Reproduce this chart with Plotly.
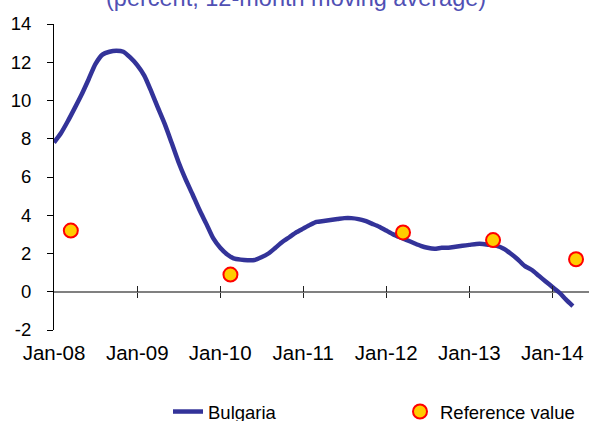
import plotly.graph_objects as go
import pandas as pd

# ---- data ----
line_dates = pd.date_range("2008-01-01", "2014-04-01", freq="MS").strftime("%Y-%m-%d").tolist()
bulgaria = [
    7.8, 8.3, 8.9, 9.6, 10.3, 11.1, 11.9, 12.4, 12.55, 12.6, 12.55, 12.25,  # 2008
    11.85, 11.3, 10.55, 9.65, 8.8, 7.8, 6.8, 5.9, 5.1, 4.3, 3.55, 2.8,      # 2009
    2.3, 1.95, 1.75, 1.68, 1.65, 1.66, 1.8, 2.0, 2.3, 2.6, 2.85, 3.1,       # 2010
    3.3, 3.5, 3.65, 3.7, 3.75, 3.8, 3.85, 3.85, 3.8, 3.7, 3.55, 3.4,        # 2011
    3.2, 3.0, 2.85, 2.7, 2.55, 2.4, 2.3, 2.25, 2.3, 2.3, 2.35, 2.4,         # 2012
    2.45, 2.5, 2.5, 2.45, 2.4, 2.25, 2.0, 1.7, 1.35, 1.15, 0.85, 0.55,      # 2013
    0.25, -0.05, -0.4, -0.75,                                               # 2014
]

ref_dates = ["2008-03-15", "2010-02-15", "2012-03-15", "2013-04-15", "2014-04-15"]
ref_values = [3.2, 0.9, 3.1, 2.7, 1.7]

tick_dates = ["2008-01-01", "2009-01-01", "2010-01-01", "2011-01-01",
              "2012-01-01", "2013-01-01", "2014-01-01"]
tick_labels = ["Jan-08", "Jan-09", "Jan-10", "Jan-11", "Jan-12", "Jan-13", "Jan-14"]
y_ticks = [-2, 0, 2, 4, 6, 8, 10, 12, 14]
y_tick_labels = ["-2", "0", "2", "4", "6", "8", "10", "12", "14"]

title_text = "(percent, 12-month moving average)"
x_range = ["2008-01-01", "2014-06-11"]

FONT = "Liberation Sans, Arial, sans-serif"

fig = go.Figure()
fig.add_trace(go.Scatter(
    x=line_dates, y=bulgaria, name="Bulgaria", mode="lines",
    line=dict(color="#333399", width=4.5, shape="spline", smoothing=0.6),
))
fig.add_trace(go.Scatter(
    x=ref_dates, y=ref_values, name="Reference value", mode="markers",
    marker=dict(color="#FFCC00", size=14, line=dict(color="#FF0000", width=2)),
))
# helper traces binding the tick-only axes crossing the zero line
for ax in ("x2", "x3"):
    fig.add_trace(go.Scatter(x=[line_dates[0]], y=[None], xaxis=ax, mode="lines",
                             showlegend=False, hoverinfo="skip"))

fig.add_annotation(
    text=title_text, xref="paper", yref="paper",
    x=(296 - 54) / 535, xanchor="center", y=1, yanchor="middle", yshift=26,
    showarrow=False, font=dict(size=23.5, color="#5050B4", family=FONT),
)

fig.update_layout(
    width=589, height=421,
    margin=dict(l=54, r=0, t=24, b=91, autoexpand=False),
    paper_bgcolor="white", plot_bgcolor="white",
    font=dict(family=FONT, color="black"),
    showlegend=True,
    legend=dict(orientation="h", xref="container", yref="container",
                x=168 / 589, xanchor="left", y=1 - 412 / 421, yanchor="middle",
                font=dict(size=18.5, family=FONT), entrywidth=187,
                entrywidthmode="pixels", bgcolor="rgba(0,0,0,0)"),
    xaxis=dict(type="date", range=x_range, showline=False, showgrid=False,
               zeroline=False, ticks="", tickvals=tick_dates, ticktext=tick_labels,
               tickfont=dict(size=20.5), ticklabelstandoff=8, automargin=False),
    xaxis2=dict(type="date", range=x_range, overlaying="x", anchor="free",
                position=0.125, showline=False, showgrid=False, zeroline=False,
                ticks="inside", ticklen=6, tickcolor="#222222", tickwidth=1,
                tickvals=tick_dates[1:], showticklabels=False, automargin=False),
    xaxis3=dict(type="date", range=x_range, overlaying="x", anchor="free",
                position=0.125, showline=False, showgrid=False, zeroline=False,
                ticks="outside", ticklen=5, tickcolor="#222222", tickwidth=1,
                tickvals=tick_dates[1:], showticklabels=False, automargin=False),
    yaxis=dict(range=[-2, 14], tickvals=y_ticks, ticktext=y_tick_labels, showgrid=False,
               showline=True, linecolor="black", linewidth=1,
               ticks="outside", ticklen=6, tickcolor="black",
               zeroline=True, zerolinecolor="#808080", zerolinewidth=2,
               tickfont=dict(size=18.5), ticklabelstandoff=12, automargin=False),
)

fig.write_html(
    "out.html",
    config={"displayModeBar": False},
    post_script="document.body.style.margin='0';document.body.style.overflow='hidden';",
)
